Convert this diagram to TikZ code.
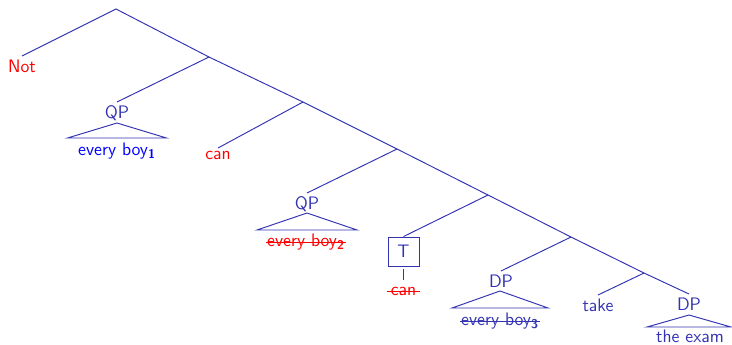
\documentclass[tikz,border=0pt]{standalone}
\definecolor{struct}{RGB}{51,51,179}
\definecolor{pblue}{RGB}{0,0,255}
\definecolor{pred}{RGB}{255,0,0}
\begin{document}
\begin{tikzpicture}[x=0.625pt,y=-0.625pt,
  font=\sffamily\fontsize{11.3}{13}\selectfont,
  edge/.style={draw=struct,line width=0.6pt},
  lab/.style={anchor=north,inner sep=2pt,text=struct},
  leaf/.style={anchor=north,inner sep=0.5pt},
  tri/.style={draw=struct,line width=0.6pt},
  strike/.style={line width=0.6pt}]
\useasboundingbox (0,0) rectangle (732,344);
% branching points
\coordinate (r) at (116,9);
\coordinate (n1) at (209,57);
\coordinate (n2) at (303,102);
\coordinate (n3) at (397,149);
\coordinate (n4) at (488,195);
\coordinate (n5) at (571,237);
\coordinate (n6) at (644,273);
% labels
\node[lab,text=pred] (not) at (22,56) {Not};
\node[lab] (qp1) at (117,102) {QP};
\node[lab,text=pred] (can1) at (218,148) {can};
\node[lab] (qp2) at (307,193) {QP};
\node[draw=struct,line width=0.6pt,inner sep=0pt,
      minimum width=19.4pt,minimum height=18.1pt,text=struct] (t) at (403.5,251.5) {T};
\node[lab,text=pred,inner sep=1pt] (can2) at (403.5,285) {can};
\node[lab] (dp1) at (501,271) {DP};
\node[lab] (take) at (598,295) {take};
\node[lab] (dp2) at (689,294) {DP};
% triangle leaves
\coordinate (a1) at (117,123);
\node[leaf,text=pblue] (l1) at (117,142) {every boy\textsubscript{\textbf{1}}};
\coordinate (a2) at (307,213);
\node[leaf,text=pred] (l2) at (306,233) {every boy\textsubscript{\textbf{2}}};
\coordinate (a3) at (500,291);
\node[leaf,text=struct] (l3) at (500,312) {every boy\textsubscript{\textbf{3}}};
\coordinate (a4) at (689,315);
\node[leaf,text=struct,text depth=0pt] (l4) at (690,328.5) {the exam};
% strike-outs
\draw[strike,pred] ([yshift=2.6pt,xshift=-1pt]can2.base west) -- ([yshift=2.6pt,xshift=1pt]can2.base east);
\draw[strike,pred] ([yshift=2.6pt]l2.base west) -- ([yshift=2.6pt]l2.base east);
\draw[strike,struct] ([yshift=2.6pt]l3.base west) -- ([yshift=2.6pt]l3.base east);
% edges
\draw[edge] (not.north) -- (r) -- (n1) -- (n2) -- (n3) -- (n4) -- (n5) -- (n6) -- (dp2.north);
\draw[edge] (n1) -- (qp1.north);
\draw[edge] (n2) -- (can1.north);
\draw[edge] (n3) -- (qp2.north);
\draw[edge] (n4) -- (t.north);
\draw[edge] ([yshift=-1.8pt]t.south) -- ([yshift=3pt]can2.north);
\draw[edge] (n5) -- (dp1.north);
\draw[edge] (n6) -- (take.north);
% triangles
\draw[tri] (a1) -- ++(-49.5,15) -- ++(99,0) -- cycle;
\draw[tri] (a2) -- ++(-50,17) -- ++(100,0) -- cycle;
\draw[tri] (a3) -- ++(-48,17) -- ++(96,0) -- cycle;
\draw[tri] (a4) -- ++(-42,12) -- ++(84,0) -- cycle;
\end{tikzpicture}
\end{document}
